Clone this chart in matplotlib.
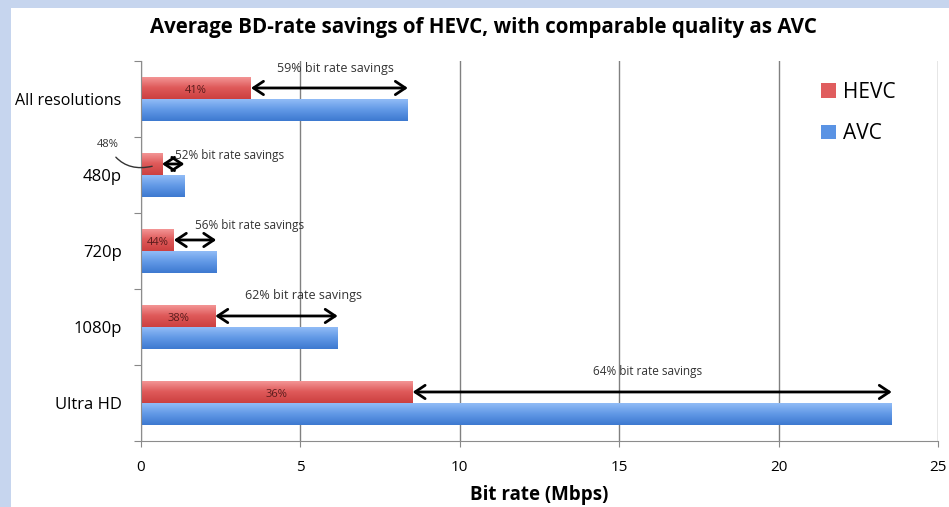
import numpy as np
import matplotlib
matplotlib.use("Agg")
import matplotlib.pyplot as plt
from matplotlib.colors import LinearSegmentedColormap
from matplotlib.patches import Rectangle

# data (Mbps)
categories = ["All resolutions", "480p", "720p", "1080p", "Ultra HD"]
hevc = [3.45, 0.66, 1.03, 2.33, 8.52]
avc = [8.37, 1.36, 2.36, 6.17, 23.55]
hevc_pct = ["41%", "48%", "44%", "38%", "36%"]
savings = ["59% bit rate savings", "52% bit rate savings", "56% bit rate savings",
           "62% bit rate savings", "64% bit rate savings"]
xticks = [0, 5, 10, 15, 20, 25]

# where the savings labels sit (x in Mbps, y offset in category units)
label_x = [6.1, 2.78, 3.4, 5.1, 15.9]
label_dy = [-0.40, -0.25, -0.34, -0.41, -0.41]
label_fs = [9, 8.5, 8.5, 9, 8.5]

plt.rcParams['font.family'] = ['Open Sans', 'DejaVu Sans']

fig = plt.figure(figsize=(9.49, 5.07), dpi=100)
fig.patch.set_facecolor('#c6d5ee')
# white panel
fig.patches.append(Rectangle((11 / 949, 0), 1, 1 - 8 / 507, transform=fig.transFigure,
                             facecolor='white', edgecolor='none', zorder=-10))

ax = fig.add_axes([141 / 949, 66 / 507, 797 / 949, 380 / 507])
ax.set_facecolor('none')

y = np.arange(len(categories))
h = 0.29
red_cmap = LinearSegmentedColormap.from_list('r', ['#f59a9a', '#df5a5a', '#cc4040'])
blue_cmap = LinearSegmentedColormap.from_list('b', ['#96bff8', '#6299e6', '#3d79d0'])

bars_h = ax.barh(y - h / 2, hevc, height=h, color='#e05d5e', label='HEVC', zorder=2)
bars_a = ax.barh(y + h / 2, avc, height=h, color='#5a93e4', label='AVC', zorder=2)

# vertical gradient fill on each bar
grad = np.linspace(0, 1, 64).reshape(-1, 1)
for bars, cmap in ((bars_h, red_cmap), (bars_a, blue_cmap)):
    for b in bars:
        x0, y0 = b.get_x(), b.get_y()
        w, hh = b.get_width(), b.get_height()
        im = ax.imshow(grad, cmap=cmap, aspect='auto', extent=(x0, x0 + w, y0 + hh, y0),
                       zorder=2.5, interpolation='bilinear')
        im.set_clip_path(b)

for i in range(len(categories)):
    yr = y[i] - h / 2
    # percentage inside the red bar
    if i != 1:
        ax.text(hevc[i] / 2, yr + 0.03, hevc_pct[i], ha='center', va='center',
                fontsize=8, color='#5a1c1c', zorder=4)
    # double arrow between the bar ends
    ax.annotate('', xy=(avc[i], yr), xytext=(hevc[i], yr),
                arrowprops=dict(arrowstyle='<->,head_length=0.45,head_width=0.3',
                                color='black', lw=2, mutation_scale=16,
                                shrinkA=0, shrinkB=0), zorder=5)
    ax.text(label_x[i], y[i] + label_dy[i], savings[i], ha='center', va='center',
            fontsize=label_fs[i], color='#333333', zorder=5)

# leader for the small 480p bar
ax.annotate(hevc_pct[1], xy=(0.35, 1 - h / 2 + 0.03), xytext=(-1.05, 1 - 0.4),
            ha='center', va='center', fontsize=8, color='#333333',
            arrowprops=dict(arrowstyle='-', color='#333333', lw=1,
                            connectionstyle='arc3,rad=0.4', shrinkA=4, shrinkB=0),
            annotation_clip=False)

ax.set_xlim(0, 25)
ax.set_ylim(4.5, -0.5)
ax.set_xticks(xticks)
ax.set_xticklabels([str(t) for t in xticks], fontsize=11)
ax.set_yticks(np.arange(-0.5, 5, 1))
ax.set_yticklabels([])
ax.set_yticks(y, minor=True)
ax.set_yticklabels(categories, minor=True)
for lab in ax.get_yticklabels(minor=True):
    lab.set_fontsize(11.5 if lab.get_text() == "All resolutions" else 12)
ax.tick_params(axis='y', which='minor', length=0, pad=14)
ax.tick_params(axis='y', which='major', length=5, color='#888888', direction='out')
ax.tick_params(axis='x', length=4, color='#888888', pad=10)
ax.xaxis.grid(True, color='#808080', lw=1)
ax.set_axisbelow(True)
for s in ('top', 'right'):
    ax.spines[s].set_visible(False)
for s in ('left', 'bottom'):
    ax.spines[s].set_color('#8c8c8c')

ax.set_xlabel('Bit rate (Mbps)', fontsize=13.5, fontweight='bold', labelpad=7)
fig.text(483 / 949, 1 - 28 / 507, 'Average BD-rate savings of HEVC, with comparable quality as AVC',
         ha='center', va='center', fontsize=14.8, fontweight='bold')

leg = ax.legend(loc='upper left', bbox_to_anchor=(0.83, 0.995), frameon=False, fontsize=15,
                handlelength=0.7, handleheight=0.7, handletextpad=0.35, labelspacing=1.0)

fig.savefig('out.png', dpi=100, facecolor=fig.get_facecolor())
